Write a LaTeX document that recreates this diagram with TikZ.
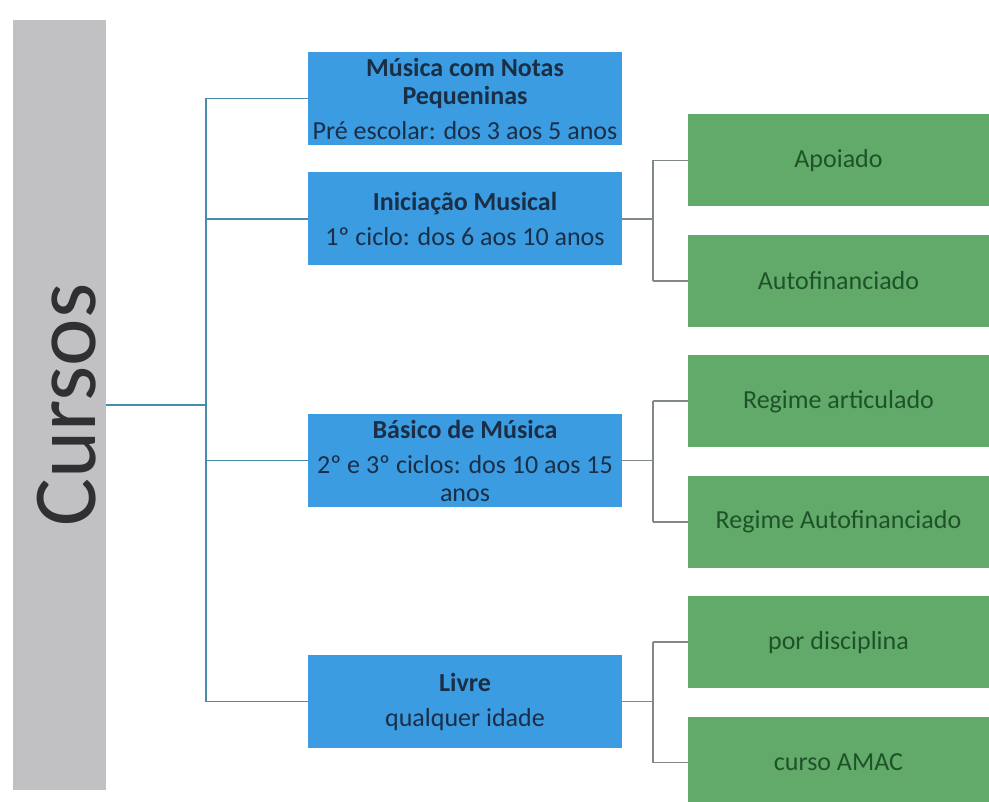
\documentclass[tikz,border=0pt]{standalone}
\usepackage{fontspec}
\setmainfont{Carlito}
\usetikzlibrary{calc,chains,positioning}
\definecolor{cinzabarra}{RGB}{193,193,195}
\definecolor{cinzatexto}{RGB}{48,48,50}
\definecolor{azul}{RGB}{60,156,226}
\definecolor{azultexto}{RGB}{26,46,70}
\definecolor{verde}{RGB}{98,170,106}
\definecolor{verdetexto}{RGB}{30,82,40}
\definecolor{linhaazul}{RGB}{72,140,172}
\definecolor{linhacinza}{RGB}{128,136,136}

\begin{document}
\begin{tikzpicture}[x=1pt, y=-1pt,
  curso/.style={rectangle, fill=azul, text=azultexto, minimum width=314pt, minimum height=93pt, inner sep=2pt, align=center, font=\fontsize{26}{28}\selectfont},
  regime/.style={rectangle, fill=verde, text=verdetexto, minimum width=301pt, minimum height=92pt, inner sep=2pt, font=\fontsize{26}{28}\selectfont, on chain},
  lig/.style={draw=linhaazul, line width=1.8pt},
  ligr/.style={draw=linhacinza, line width=1.6pt},
  start chain=going below, node distance=28pt]
  \clip (0,0) rectangle (989,802);
  \fill[white] (0,0) rectangle (989,802);

  \node[fill=cinzabarra, minimum width=93pt, minimum height=770pt, inner sep=0pt] (barra) at (59.5,405) {};
  \node[rotate=90, text=cinzatexto, font=\fontsize{90}{90}\selectfont, inner sep=0pt] (titulo) at (67,405) {Cursos};

  \node[curso] (b1) at (465,98.5) {\textbf{Música com Notas}\\\textbf{Pequeninas}\\[7pt]Pré escolar: dos 3 aos 5 anos};
  \node[curso] (b2) at (465,219) {\textbf{Iniciação Musical}\\[7pt]1º ciclo: dos 6 aos 10 anos};
  \node[curso] (b3) at (465,460.5) {\textbf{Básico de Música}\\[7pt]2º e 3º ciclos: dos 10 aos 15\\anos};
  \node[curso] (b4) at (465,701.5) {\textbf{Livre}\\[7pt]qualquer idade};

  \node[regime] (g1) at (838.5,160.5) {Apoiado};
  \node[regime] (g2) {Autofinanciado};
  \node[regime] (g3) {Regime articulado};
  \node[regime] (g4) {Regime Autofinanciado};
  \node[regime] (g5) {por disciplina};
  \node[regime] (g6) {curso AMAC};

  \coordinate (tronco) at (206,405);
    \draw[lig] (barra.east |- tronco) -- (tronco);
    \draw[lig] (tronco |- b1.west) -- (tronco |- b4.west);
    \foreach \b in {b1,b2,b3,b4}
      \draw[lig] (tronco |- \b.west) -- (\b.west);
    \foreach \b/\p/\q in {b2/g1/g2, b3/g3/g4, b4/g5/g6} {
      \coordinate (n\b) at ($(\b.east)+(31,0)$);
      \draw[ligr] (\b.east) -- (n\b);
      \draw[ligr] (n\b |- \p.west) -- (n\b |- \q.west);
      \draw[ligr] (n\b |- \p.west) -- (\p.west);
      \draw[ligr] (n\b |- \q.west) -- (\q.west);
    }
\end{tikzpicture}
\end{document}
